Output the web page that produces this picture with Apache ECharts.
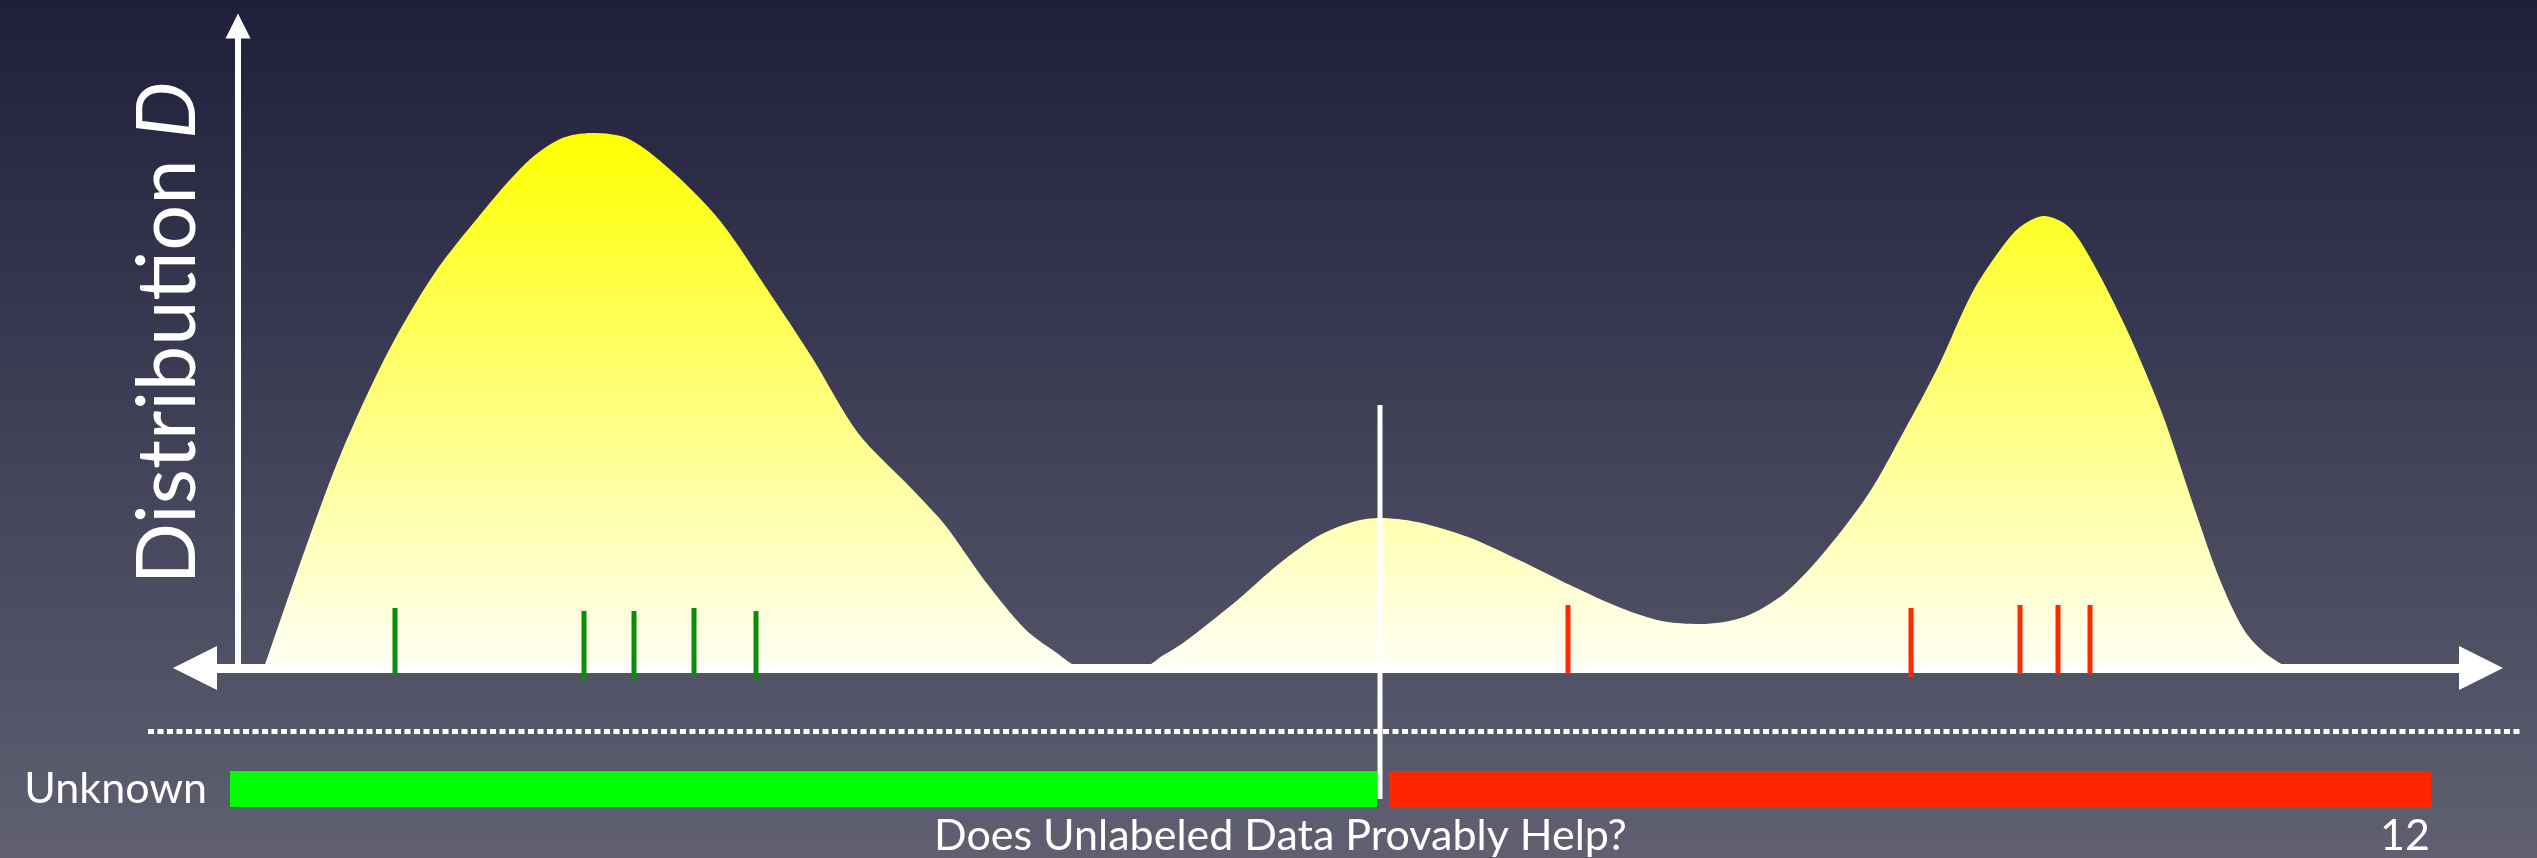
<!DOCTYPE html>
<html>
<head>
<meta charset="utf-8">
<script src="https://cdn.jsdelivr.net/npm/echarts@6/dist/echarts.min.js"></script>
<style>
  html, body { margin: 0; padding: 0; background: #3a3a52; }
  #chart { width: 2537px; height: 858px; }
</style>
</head>
<body>
<div id="chart"></div>
<script>
// ---- data (x: position along the instance space, y: density height) ----
const curveX = [26,69,104,150,196,242,288,322,354,391,437,483,529,575,620,672,707,747,787,816,845,875,904,924,945,996,1042,1082,1118,1141,1179,1230,1281,1332,1383,1424,1462,1506,1547,1588,1631,1665,1700,1734,1762,1782,1806,1831,1855,1889,1924,1958,1982,2006,2027,2050];
const curveY = [0,124,217,316,394,453,505,529,535,529,494,446,379,309,235,181,143,87,39,17,0,0,0,12,25,65,105,133,147,150,146,131,108,83,60,47,44,51,75,118,175,235,301,375,418,441,452,441,405,338,255,155,88,38,15,0];

// labeled samples (green = positive, red = negative)
const greenTickX = [157, 346, 396, 456, 518];
const greenTickTop = [60, 57, 57, 60, 57];
const greenTickBottom = [-8, -11, -11, -8, -11];
const redTickX = [1330, 1673, 1782, 1820, 1852];
const redTickTop = [63, 60, 63, 63, 63];
const redTickBottom = [-6, -9, -6, -6, -6];

// threshold of the learned classifier
const thresholdX = 1142;
const thresholdTop = 263;
const thresholdBottom = -131;

// classification of the unknown region
const rowCategories = ['Unknown'];
const regionStart = [-8, 1151];
const regionEnd = [1139, 2193];
const regionNames = ['positive', 'negative'];

const titleText = 'Does Unlabeled Data Provably Help?';
const pageNumber = '12';

// ---- build ----
const FONT = 'Lato, "Open Sans", sans-serif';
const curveData = curveX.map((x, i) => [x, curveY[i]]);
const greenData = greenTickX.map((x, i) => [x, greenTickTop[i], greenTickBottom[i]]);
const redData = redTickX.map((x, i) => [x, redTickTop[i], redTickBottom[i]]);
const regionColors = { positive: '#00ff00', negative: '#ff2600' };
const regionData = regionStart.map((s, i) => [s, regionEnd[i], 0, regionNames[i]]);

function tickRenderer(color, width) {
  return function (params, api) {
    const x = api.value(0);
    const top = api.coord([x, api.value(1)]);
    const bot = api.coord([x, api.value(2)]);
    return {
      type: 'rect',
      shape: { x: top[0] - width / 2, y: top[1], width: width, height: bot[1] - top[1] },
      style: { fill: color }
    };
  };
}

const chart = echarts.init(document.getElementById('chart'), null, { renderer: 'canvas' });
chart.setOption({
  animation: false,
  backgroundColor: {
    type: 'linear', x: 0, y: 0, x2: 0, y2: 1,
    colorStops: [{ offset: 0, color: '#1f1f3b' }, { offset: 1, color: '#606072' }]
  },
  title: [
    { text: titleText, left: 934, top: 815, padding: 0,
      textStyle: { color: '#ffffff', fontFamily: FONT, fontSize: 43, fontWeight: 'normal' } },
    { text: pageNumber, right: 107, top: 815, padding: 0,
      textStyle: { color: '#ffffff', fontFamily: FONT, fontSize: 43, fontWeight: 'normal' } }
  ],
  grid: [
    { left: 195, right: 56, top: 26, bottom: 190 },
    { left: 215, right: 56, top: 771, height: 36 }
  ],
  xAxis: [
    {
      type: 'value', gridIndex: 0, min: -43, max: 2243,
      axisLine: { show: true, onZero: true, symbol: ['triangle', 'triangle'], symbolSize: [44, 44],
        lineStyle: { color: '#ffffff', width: 9 } },
      axisTick: { show: false }, axisLabel: { show: false }, splitLine: { show: false }
    },
    {
      type: 'value', gridIndex: 1, min: -23, max: 2243,
      axisLine: { show: false }, axisTick: { show: false }, axisLabel: { show: false }, splitLine: { show: false }
    }
  ],
  yAxis: [
    {
      type: 'value', gridIndex: 0, min: 0, max: 642,
      name: '{a|Distribution }{b|D}',
      nameLocation: 'middle', nameRotate: 90, nameGap: -14,
      nameTextStyle: {
        color: '#ffffff', fontFamily: FONT, fontSize: 81, padding: [0, 0, 0, 28],
        rich: {
          a: { color: '#ffffff', fontFamily: FONT, fontSize: 81 },
          b: { color: '#ffffff', fontFamily: FONT, fontSize: 81, fontStyle: 'italic' }
        }
      },
      axisLine: { show: true, onZero: true, symbol: ['none', 'triangle'], symbolSize: [25, 25],
        lineStyle: { color: '#ffffff', width: 6 } },
      axisTick: { show: false }, axisLabel: { show: false }, splitLine: { show: false }
    },
    {
      type: 'category', gridIndex: 1, data: rowCategories,
      axisLine: { show: false }, axisTick: { show: false }, splitLine: { show: false },
      axisLabel: { color: '#ffffff', fontFamily: FONT, fontSize: 43, margin: 8 }
    }
  ],
  graphic: [
    { type: 'line', silent: true, z: 1,
      shape: { x1: 148, y1: 731.5, x2: 2521, y2: 731.5 },
      style: { stroke: '#ffffff', lineWidth: 5, lineDash: [6, 3.5] } }
  ],
  series: [
    {
      type: 'line', xAxisIndex: 0, yAxisIndex: 0, data: curveData,
      smooth: 0.3, showSymbol: false, symbol: 'none',
      lineStyle: { width: 0, opacity: 0 },
      areaStyle: {
        opacity: 1,
        color: {
          type: 'linear', x: 0, y: 0, x2: 0, y2: 1,
          colorStops: [{ offset: 0, color: '#ffff00' }, { offset: 1, color: '#fffff6' }]
        }
      },
      z: 2
    },
    {
      type: 'custom', xAxisIndex: 0, yAxisIndex: 0, data: greenData,
      encode: { x: 0, y: [1, 2] }, renderItem: tickRenderer('#0b8c0b', 5), z: 5
    },
    {
      type: 'custom', xAxisIndex: 0, yAxisIndex: 0, data: redData,
      encode: { x: 0, y: [1, 2] }, renderItem: tickRenderer('#ff2a00', 5), z: 5
    },
    {
      type: 'custom', xAxisIndex: 1, yAxisIndex: 1, data: regionData,
      encode: { x: [0, 1], y: 2 },
      renderItem: function (params, api) {
        const p0 = api.coord([api.value(0), 0]);
        const p1 = api.coord([api.value(1), 0]);
        const h = api.size([0, 1])[1];
        return {
          type: 'rect',
          shape: { x: p0[0], y: p0[1] - h / 2, width: p1[0] - p0[0], height: h },
          style: { fill: regionColors[regionNames[params.dataIndex]] }
        };
      },
      z: 3
    },
    {
      type: 'custom', xAxisIndex: 0, yAxisIndex: 0,
      data: [[thresholdX, thresholdTop, thresholdBottom]],
      encode: { x: 0, y: [1, 2] }, renderItem: tickRenderer('#ffffff', 5), z: 6
    }
  ]
});
</script>
</body>
</html>
